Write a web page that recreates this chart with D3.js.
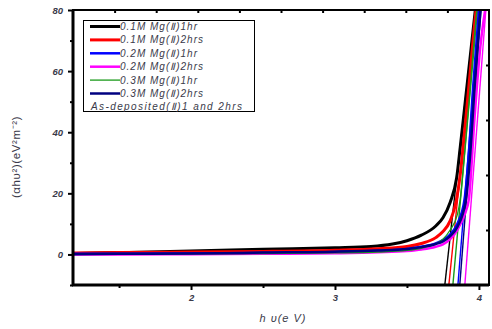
<!DOCTYPE html>
<html>
<head>
<meta charset="utf-8">
<script src="https://cdn.jsdelivr.net/npm/d3@7"></script>
<style>
  body { margin: 0; background: #fff; }
  text { font-family: "Liberation Sans", Arial, sans-serif; }
</style>
</head>
<body>
<div class="chart"></div>
<script>
//Data - Tauc plot, photon energy (eV) vs (αhυ)²
const seriesNames = ['0.1M Mg(Ⅱ)1hr', '0.1M Mg(Ⅱ)2hrs', '0.2M Mg(Ⅱ)1hr', '0.2M Mg(Ⅱ)2hrs', '0.3M Mg(Ⅱ)1hr', '0.3M Mg(Ⅱ)2hrs'];
const extraLegend = 'As-deposited(Ⅱ)1 and 2hrs';
const seriesColors = ['#000000', '#ff0000', '#0000ff', '#ff00ff', '#1a9a1a', '#000080'];

// curve points [hv, (αhυ)²]
const black01_1 = [[1.18,0.3],[1.5,0.6],[2.0,1.1],[2.5,1.7],[3.0,2.2],[3.25,2.6],[3.4,3.4],[3.5,4.5],[3.6,6.3],[3.7,9.3],[3.75,12],[3.8,17],[3.845,25],[3.87,35],[3.905,50],[3.94,65],[3.975,80],[4.0,90]];
const red01_2 = [[1.18,0.5],[1.5,0.6],[2.0,0.8],[2.5,1.0],[3.0,1.4],[3.3,1.9],[3.5,2.6],[3.6,3.6],[3.7,5.5],[3.75,7.5],[3.8,11],[3.84,17],[3.87,26],[3.9,40],[3.94,60],[3.98,80],[4.01,92]];
const blue02_1 = [[1.18,0.2],[1.5,0.2],[2.0,0.3],[2.5,0.5],[3.0,0.8],[3.3,1.2],[3.5,1.8],[3.6,2.5],[3.7,3.6],[3.75,4.7],[3.8,6.5],[3.85,10],[3.9,18],[3.93,33],[3.96,55],[4.0,80],[4.03,95]];
const magenta02_2 = [[1.18,0],[1.5,0],[2.0,0.1],[2.5,0.2],[3.0,0.4],[3.3,0.7],[3.5,1.1],[3.6,1.6],[3.7,2.5],[3.75,3.3],[3.8,5],[3.85,8],[3.9,13],[3.93,18],[3.97,45],[4.01,68],[4.05,82]];
const green03_1 = [[1.18,0],[1.5,0.1],[2.0,0.2],[2.5,0.3],[3.0,0.5],[3.3,0.8],[3.5,1.3],[3.6,2.0],[3.7,3.5],[3.75,5],[3.8,8],[3.85,13],[3.87,18],[3.9,33],[3.94,55],[3.985,80],[4.02,95]];
const navy03_2 = [[1.18,0.1],[1.5,0.2],[2.0,0.3],[2.5,0.6],[3.0,0.9],[3.3,1.3],[3.5,1.8],[3.6,2.4],[3.7,3.4],[3.75,4.3],[3.8,6],[3.85,9],[3.91,18],[3.94,33],[3.97,55],[4.01,80],[4.04,95]];
const curves = [black01_1, red01_2, blue02_1, magenta02_2, green03_1, navy03_2];

// linear fit (extrapolation) lines, end points
const fitLines = [
    [[3.763,-10],[3.975,80]],
    [[3.791,-10],[3.985,80]],
    [[3.854,-10],[4.005,80]],
    [[3.902,-10],[4.048,80]],
    [[3.819,-10],[3.99,80]],
    [[3.867,-10],[4.015,80]]
];
const lineWidths = [3, 3, 2.5, 2.5, 1.3, 2.5];

const xDomain = [1.18, 4.07];
const yDomain = [-10, 80];
const xMajor = [2, 3, 4];
const xMinor = [1.5, 2.5, 3.5];
const yMajor = [0, 20, 40, 60, 80];
const yMinor = [-10, 10, 30, 50, 70];
const topTicks = [1, 2, 3, 4, 5, 6, 7, 8, 9];   // mirror axis, 10 divisions
const rightTicks = [1, 2, 3, 4];               // mirror axis, 5 divisions

const svg_width = 492, svg_height = 329;
const margin = { top: 10, right: 3, bottom: 44, left: 73 };
const chart_width = svg_width - margin.left - margin.right;
const chart_height = svg_height - margin.top - margin.bottom;

const svg = d3.select('.chart').append('svg')
    .attr('width', svg_width).attr('height', svg_height);
const g = svg.append('g').attr('transform', `translate(${margin.left},${margin.top})`);

const xScale = d3.scaleLinear(xDomain, [0, chart_width]);
const yScale = d3.scaleLinear(yDomain, [chart_height, 0]);
const topScale = d3.scaleLinear([0, 10], [0, chart_width]);
const rightScale = d3.scaleLinear([0, 5], [0, chart_height]);

g.append('clipPath').attr('id', 'clip').append('rect')
    .attr('width', chart_width).attr('height', chart_height);

const line = d3.line().x(d => xScale(d[0])).y(d => yScale(d[1]));
const plot = g.append('g').attr('clip-path', 'url(#clip)');

// fit lines
plot.selectAll('.fit').data(fitLines).join('path').attr('class', 'fit')
    .attr('d', line).attr('fill', 'none')
    .attr('stroke', (d, i) => seriesColors[i]).attr('stroke-width', 1.4);

// curves
plot.selectAll('.curve').data(curves).join('path').attr('class', 'curve')
    .attr('d', d3.line().curve(d3.curveMonotoneX).x(d => xScale(d[0])).y(d => yScale(d[1])))
    .attr('fill', 'none')
    .attr('stroke', (d, i) => seriesColors[i])
    .attr('stroke-width', (d, i) => lineWidths[i]);

//axes
const tickText = sel => sel.selectAll('text')
    .style('font-size', '9.5px').style('font-style', 'italic').style('font-weight', 'bold')
    .attr('fill', '#3a3a4a');

const xAxisG = g.append('g').attr('transform', `translate(0,${chart_height})`)
    .call(d3.axisBottom(xScale).tickValues(xMajor).tickFormat(d3.format('d')).tickSize(5).tickSizeOuter(0).tickPadding(4));
xAxisG.call(tickText);
g.append('g').attr('transform', `translate(0,${chart_height})`)
    .call(d3.axisBottom(xScale).tickValues(xMinor).tickFormat('').tickSize(3).tickSizeOuter(0));

const yAxisG = g.append('g')
    .call(d3.axisLeft(yScale).tickValues(yMajor).tickFormat(d3.format('d')).tickSize(5).tickSizeOuter(0).tickPadding(5));
yAxisG.call(tickText);
g.append('g')
    .call(d3.axisLeft(yScale).tickValues(yMinor).tickFormat('').tickSize(3).tickSizeOuter(0));

g.append('g').call(d3.axisBottom(topScale).tickValues(topTicks).tickFormat('').tickSize(3).tickSizeOuter(0));
g.append('g').attr('transform', `translate(${chart_width},0)`)
    .call(d3.axisLeft(rightScale).tickValues(rightTicks).tickFormat('').tickSize(3).tickSizeOuter(0));

g.selectAll('.domain').remove();
g.selectAll('.tick line').attr('stroke', '#000').attr('stroke-width', 2);

// frame
g.append('rect').attr('width', chart_width).attr('height', chart_height)
    .attr('fill', 'none').attr('stroke', '#000').attr('stroke-width', 2);
g.append('line').attr('x1', 0).attr('x2', 0).attr('y1', 0).attr('y2', chart_height + 1)
    .attr('stroke', '#000').attr('stroke-width', 3);
g.append('line').attr('x1', -1).attr('x2', chart_width).attr('y1', chart_height).attr('y2', chart_height)
    .attr('stroke', '#000').attr('stroke-width', 3);

// axis titles
svg.append('text').attr('x', 283).attr('y', 322).attr('text-anchor', 'middle')
    .style('font-size', '11px').style('font-style', 'italic').style('letter-spacing', '1px')
    .attr('fill', '#3a3a4a')
    .text('h υ(e V)');
svg.append('text').attr('transform', 'translate(20,157) rotate(-90)').attr('text-anchor', 'middle')
    .style('font-size', '11.5px').style('letter-spacing', '0.6px').attr('fill', '#3a3a4a')
    .text('(αhυ²)(eV²m⁻²)');

// legend
const legend = svg.append('g').attr('class', 'legend');
legend.append('rect').attr('x', 83.5).attr('y', 20.5).attr('width', 171).attr('height', 91)
    .attr('fill', '#fff').attr('stroke', '#000').attr('stroke-width', 1);
const rowY = i => 26.5 + i * 13.4;
const legendItems = legend.selectAll('.item').data(seriesNames).join('g').attr('class', 'item');
legendItems.append('line').attr('x1', 90).attr('x2', 120)
    .attr('y1', (d, i) => rowY(i)).attr('y2', (d, i) => rowY(i))
    .attr('stroke', (d, i) => seriesColors[i]).attr('stroke-width', (d, i) => lineWidths[i]);
legendItems.append('text').attr('x', 120).attr('y', (d, i) => rowY(i) + 3.5)
    .style('font-size', '10px').style('font-style', 'italic').style('letter-spacing', '1px')
    .attr('fill', '#3a3a4a')
    .text(d => d);
legend.append('text').attr('x', 91).attr('y', rowY(6) + 3.5)
    .style('font-size', '10px').style('font-style', 'italic').style('letter-spacing', '1.4px')
    .attr('fill', '#3a3a4a')
    .text(extraLegend);
</script>
</body>
</html>
